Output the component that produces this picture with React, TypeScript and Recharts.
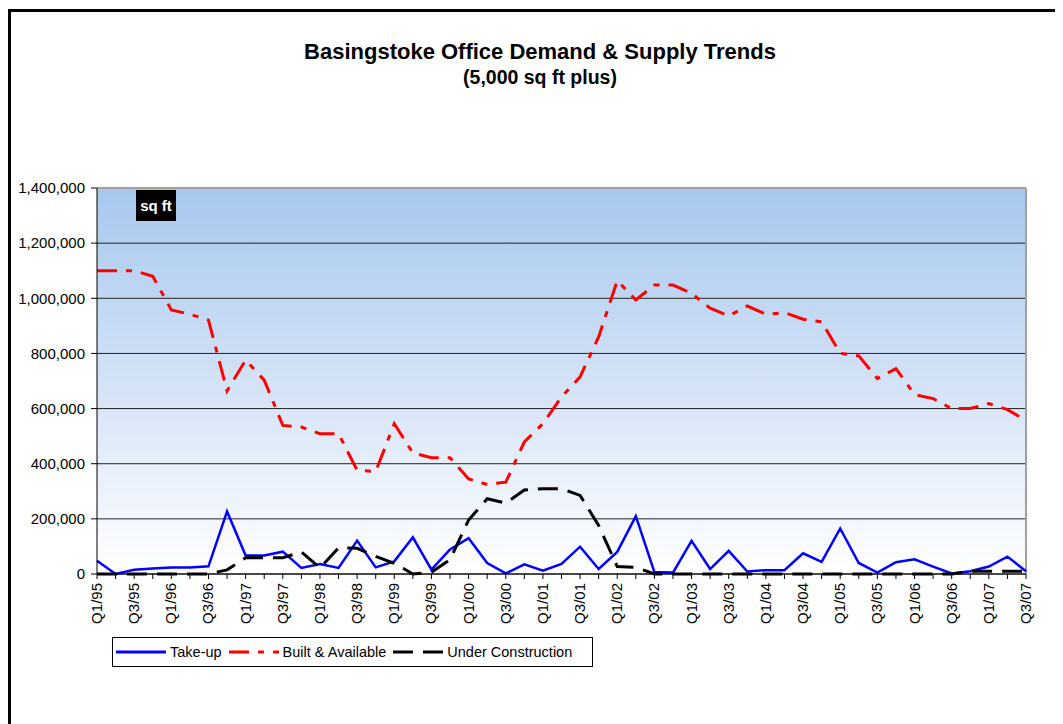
import {
  LineChart, Line, XAxis, YAxis, CartesianGrid, ReferenceLine,
} from "recharts";

const quarters = [
  "Q1/95", "Q2/95", "Q3/95", "Q4/95", "Q1/96", "Q2/96", "Q3/96", "Q4/96",
  "Q1/97", "Q2/97", "Q3/97", "Q4/97", "Q1/98", "Q2/98", "Q3/98", "Q4/98",
  "Q1/99", "Q2/99", "Q3/99", "Q4/99", "Q1/00", "Q2/00", "Q3/00", "Q4/00",
  "Q1/01", "Q2/01", "Q3/01", "Q4/01", "Q1/02", "Q2/02", "Q3/02", "Q4/02",
  "Q1/03", "Q2/03", "Q3/03", "Q4/03", "Q1/04", "Q2/04", "Q3/04", "Q4/04",
  "Q1/05", "Q2/05", "Q3/05", "Q4/05", "Q1/06", "Q2/06", "Q3/06", "Q4/06",
  "Q1/07", "Q2/07", "Q3/07",
];

const takeUp = [
  48000, 0, 15000, 20000, 24000, 24000, 28000, 227000,
  67000, 67000, 81000, 22000, 36000, 22000, 121000, 24000,
  46000, 133000, 16000, 89000, 130000, 40000, 2000, 35000,
  12000, 37000, 99000, 18000, 80000, 210000, 7000, 5000,
  120000, 18000, 84000, 9000, 14000, 14000, 75000, 44000,
  165000, 40000, 5000, 43000, 53000, 27000, 2000, 10000,
  27000, 63000, 10000,
];

const builtAvailable = [
  1100000, 1100000, 1100000, 1080000, 958000, 942000, 921000, 664000,
  776000, 703000, 539000, 533000, 509000, 509000, 376000, 372000,
  545000, 439000, 422000, 422000, 345000, 325000, 333000, 479000,
  545000, 642000, 715000, 860000, 1064000, 994000, 1048000, 1048000,
  1018000, 964000, 936000, 972000, 942000, 948000, 924000, 915000,
  800000, 791000, 709000, 745000, 651000, 636000, 600000, 600000,
  618000, 596000, 557000,
];

const underConstruction = [
  0, 0, 0, 0, 0, 0, 0, 15000,
  59000, 59000, 59000, 80000, 22000, 95000, 93000, 64000,
  39000, 0, 6000, 52000, 196000, 273000, 257000, 305000,
  309000, 309000, 285000, 176000, 27000, 24000, 0, 0,
  0, 0, 0, 0, 0, 0, 0, 0,
  0, 0, 0, 0, 0, 0, 0, 10000,
  10000, 10000, 10000,
];

const yTicks = [0, 200000, 400000, 600000, 800000, 1000000, 1200000, 1400000];

const data = quarters.map((q, i) => ({
  q,
  takeUp: takeUp[i],
  built: builtAvailable[i],
  under: underConstruction[i],
}));

const FONT = "'Liberation Sans', Arial, sans-serif";
const RED_DASH = "20 9 6 9";
const BLACK_DASH = "20 10";

const QuarterTick = (props: any) => {
  const { x, y, payload, index } = props;
  if (index % 2 !== 0) return <g />;
  return (
    <text
      x={x}
      y={y}
      dx={-2}
      dy={5}
      transform={`rotate(-90, ${x}, ${y})`}
      textAnchor="end"
      fontSize={15}
      fontFamily={FONT}
      fill="#000"
    >
      {payload.value}
    </text>
  );
};

function LegendBox() {
  const items = [
    { label: "Take-up", color: "#0000ff", dash: undefined },
    { label: "Built & Available", color: "#ff0000", dash: RED_DASH },
    { label: "Under Construction", color: "#000", dash: BLACK_DASH },
  ];
  return (
    <div
      style={{
        position: "absolute", left: 104, top: 629, width: 476, height: 28,
        border: "1px solid #000", background: "#fff", display: "flex",
        alignItems: "center", fontFamily: FONT, fontSize: 14.5, paddingLeft: 3,
      }}
    >
      {items.map(it => (
        <div key={it.label} style={{ display: "flex", alignItems: "center", marginRight: 7 }}>
          <svg width={50} height={8} style={{ marginRight: 4 }}>
            <line x1={0} y1={4} x2={50} y2={4} stroke={it.color} strokeWidth={3} strokeDasharray={it.dash} />
          </svg>
          <span>{it.label}</span>
        </div>
      ))}
    </div>
  );
}

export default function App() {
  return (
    <div style={{ position: "relative", width: 1055, height: 716, fontFamily: FONT }}>
      <div
        style={{
          position: "absolute", left: 0, top: 1, width: 1060, height: 720,
          borderTop: "3px solid #000", borderLeft: "3px solid #000",
        }}
      />
      <div
        style={{
          position: "absolute", left: 0, top: 33, width: 1064, textAlign: "center",
          fontSize: 22, fontWeight: "bold", lineHeight: "22px",
        }}
      >
        Basingstoke Office Demand &amp; Supply Trends
      </div>
      <div
        style={{
          position: "absolute", left: 0, top: 60, width: 1064, textAlign: "center",
          fontSize: 19.5, fontWeight: "bold", lineHeight: "19.5px",
        }}
      >
        (5,000 sq ft plus)
      </div>
      <LineChart
        width={1055}
        height={716}
        data={data}
        margin={{ top: 180, right: 37, bottom: 90, left: 0 }}
      >
        <defs>
          <linearGradient id="plotBg" x1="0" y1="0" x2="0" y2="1">
            <stop offset="0%" stopColor="#a6c8ee" />
            <stop offset="50%" stopColor="#d3e2f6" />
            <stop offset="100%" stopColor="#ffffff" />
          </linearGradient>
        </defs>
        <CartesianGrid vertical={false} stroke="#222" fill="url(#plotBg)" fillOpacity={1} />
        <XAxis
          dataKey="q"
          interval={0}
          tick={QuarterTick}
          tickSize={5}
          height={60}
          axisLine={{ stroke: "#000" }}
          tickLine={{ stroke: "#000" }}
        />
        <YAxis
          domain={[0, 1400000]}
          ticks={yTicks}
          width={89}
          tickSize={6}
          tickMargin={6}
          tickFormatter={(v: number) => v.toLocaleString("en-US")}
          tick={{ fill: "#000", fontSize: 15, fontFamily: FONT }}
          axisLine={{ stroke: "#000" }}
          tickLine={{ stroke: "#000" }}
        />
        <ReferenceLine y={1400000} stroke="#a0a0a0" strokeWidth={2} />
        <ReferenceLine x="Q3/07" stroke="#a0a0a0" strokeWidth={2} />
        <Line
          dataKey="takeUp"
          stroke="#0000ff"
          strokeWidth={2.5}
          dot={false}
          isAnimationActive={false}
        />
        <Line
          dataKey="built"
          stroke="#ff0000"
          strokeWidth={3}
          strokeDasharray={RED_DASH}
          dot={false}
          isAnimationActive={false}
        />
        <Line
          dataKey="under"
          stroke="#000"
          strokeWidth={3}
          strokeDasharray={BLACK_DASH}
          dot={false}
          isAnimationActive={false}
        />
      </LineChart>
      <div
        style={{
          position: "absolute", left: 128, top: 182, width: 40, height: 31,
          background: "#000", color: "#fff", fontWeight: "bold", fontSize: 15,
          display: "flex", alignItems: "center", justifyContent: "center",
        }}
      >
        sq ft
      </div>
      <LegendBox />
    </div>
  );
}
